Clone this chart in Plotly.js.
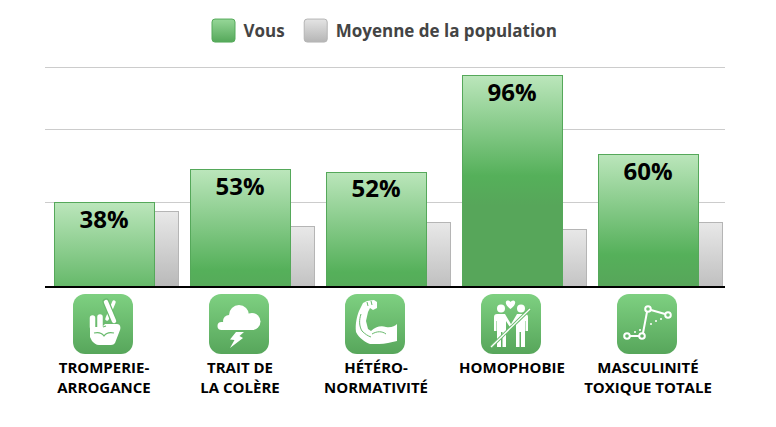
<!DOCTYPE html>
<html>
<head>
<meta charset="utf-8">
<script src="https://cdn.plot.ly/plotly-3.0.1.min.js"></script>
<style>html,body{margin:0;padding:0;background:#fff}</style>
</head>
<body>
<div id="plot" style="width:776px;height:427px"></div>
<script>
const categories = ['TROMPERIE-<br>ARROGANCE', 'TRAIT DE<br>LA COLÈRE', 'HÉTÉRO-<br>NORMATIVITÉ', 'HOMOPHOBIE', 'MASCULINITÉ<br>TOXIQUE TOTALE'];
const vous = [38, 53, 52, 96, 60];
const moyenne = [34, 27, 29, 26, 29];
const gridTicks = [38.1, 71.6, 100];
const seriesNames = ['Vous', 'Moyenne de la population'];

const FONT = '"Open Sans", sans-serif';
const ICON_LINE = '#69ba6d';

// one body of the couple picto, the other one is its mirror
const figure = '<circle cx="20" cy="14.5" r="4"/><path d="M13 23a3 3 0 0 1 3-3h8l6.5 11-2 1.5L25 27v26h-3.5V38h-1.5v15H16V27h-.5v10h-2.5z"/>';

// white pictos, 60x60 box
const iconParts = [
  // crossed fingers
  '<g fill="none" stroke="#fff" stroke-linecap="round"><path d="M19.5 24V33M27 23V33" stroke-width="5.5"/><path d="M41 8L34 25" stroke-width="3.5"/>' +
  '<path d="M33 8L41 27" stroke="' + ICON_LINE + '" stroke-width="7"/><path d="M33 8L41 27" stroke-width="4.5"/></g>' +
  '<path d="M17 33h12l3-3h12c3 0 4 3 3 6l-5 13c-1 1-2 2-4 2H26c-3 0-5-2-7-4l-2-4z"/>' +
  '<path d="M21 39c4-1 8 0 10 3 2-3 6-4 10-3M30 33l3-1" fill="none" stroke="' + ICON_LINE + '" stroke-width="1.2"/>',
  // storm cloud
  '<circle cx="30" cy="21" r="10"/><circle cx="20" cy="27" r="6"/><circle cx="43" cy="27.5" r="8.5"/><circle cx="12.5" cy="32" r="4"/><rect x="12" y="28" width="33" height="8"/>' +
  '<path d="M27 38h8l-4.500 4 3.500 2-13 10 4.500-8-4.500-.5z"/>',
  // flexed arm
  '<path d="M18 9l4-2 7-1 3 2v6l-4 2-3-2-2 4-2 9 2 8 3 2c4-4 10-6 15-4 5 1 9-1 11-3v17c-6 1-12 3-18 3h-9c-5-2-11-6-14-12-1-8 1-16 3-21z"/>' +
  '<path d="M27 40c5-3 10-3 14 0M16 20c-2 6-2 12 1 17 3 3 6 5 9 6M22 8l1 4M26 7l1 4" fill="none" stroke="' + ICON_LINE + '" stroke-width="1"/>',
  // couple with slash
  figure + '<g transform="translate(60,0) scale(-1,1)">' + figure + '</g>' +
  '<path d="M29.500 15c-5-3-6-8-3-8.500 2 0 3 1.500 3 1.500s1-1.500 3-1.500c3 .5 2 5.500-3 8.500z"/>' +
  '<path d="M49 15L10 53" stroke="' + ICON_LINE + '" stroke-width="3.2" fill="none"/><path d="M49 15L10 53" stroke="#fff" stroke-width="1.3" fill="none"/>',
  // broken line chart
  '<g fill="none" stroke="#fff" stroke-width="2"><path d="M13 42h9M26 39l4-21M34 16l14 4"/><circle cx="10" cy="42" r="2.800"/><circle cx="25" cy="42" r="2.800"/><circle cx="31" cy="15" r="2.800"/><circle cx="51" cy="21" r="2.800"/></g>' +
  '<circle cx="18" cy="38" r="1"/><circle cx="23" cy="36" r="1"/><circle cx="34" cy="30" r="1"/><circle cx="39" cy="27" r="1"/><circle cx="44" cy="25" r="1"/>'
];

function iconUri(inner) {
  const svg = '<svg xmlns="http://www.w3.org/2000/svg" width="60" height="60" viewBox="0 0 60 60">' +
    '<defs><linearGradient id="g" x1="0" y1="0" x2="0" y2="1"><stop offset="0" stop-color="#7ed081"/><stop offset="1" stop-color="#57a65b"/></linearGradient></defs>' +
    '<rect width="60" height="60" rx="12" fill="url(#g)"/><g fill="#fff">' + inner + '</g></svg>';
  return 'data:image/svg+xml;base64,' + btoa(svg);
}

// page is 776x427, plot area runs x 45-725, y 60-286; one category is 136 px, one percent 2.19 px
const W = 776, H = 427;
const catPx = 136;
const pctPx = 2.19;
const plotTop = 60, plotBottom = 286;

const data = [
  {
    type: 'bar', name: seriesNames[1], x: categories, y: moyenne,
    width: 100 / catPx, offset: -26 / catPx, legendrank: 2,
    marker: { color: '#d0d0d0', line: { color: '#b5b5b5', width: 1 } },
    hoverinfo: 'skip'
  },
  {
    type: 'bar', name: seriesNames[0], x: categories, y: vous,
    width: 100 / catPx, offset: -50 / catPx, legendrank: 1,
    marker: { color: '#55b05a', line: { color: '#55a85a', width: 1 } },
    text: vous.map(v => v + '%'), textposition: 'inside', insidetextanchor: 'end',
    textangle: 0, constraintext: 'none',
    insidetextfont: { family: FONT, size: 24, color: '#000', weight: 700 },
    hoverinfo: 'skip'
  }
];

const layout = {
  width: W, height: H,
  margin: { l: 0, r: 0, t: 0, b: 0, pad: 0 },
  paper_bgcolor: '#fff', plot_bgcolor: '#fff',
  barmode: 'overlay',
  showlegend: true,
  legend: {
    orientation: 'h', x: 203.5 / W, xanchor: 'left', y: 1 - 31 / H, yanchor: 'middle',
    font: { family: FONT, size: 17, color: '#444', weight: 700 },
    itemclick: false, itemdoubleclick: false, itemwidth: 30
  },
  xaxis: {
    type: 'category', categoryorder: 'array', categoryarray: categories,
    domain: [45 / W, 725 / W],
    range: [-59 / catPx, 5 - 59 / catPx], fixedrange: true,
    showline: true, linecolor: '#000', linewidth: 2, showgrid: false,
    ticks: 'outside', ticklen: 67, tickcolor: 'rgba(0,0,0,0)', tickwidth: 1,
    tickangle: 0, tickfont: { family: FONT, size: 15, color: '#000', weight: 700 }
  },
  yaxis: {
    domain: [(H - plotBottom) / H, (H - plotTop) / H],
    range: [0, (plotBottom - plotTop) / pctPx], fixedrange: true, tickmode: 'array', tickvals: gridTicks,
    showticklabels: false, ticks: '', gridcolor: '#cccccc', gridwidth: 1,
    zeroline: false, showline: false
  },
  images: categories.map((c, i) => ({
    source: iconUri(iconParts[i]), xref: 'x', yref: 'paper',
    x: i - 1 / catPx, y: (H - 294) / H, xanchor: 'center', yanchor: 'top',
    sizex: 60 / catPx, sizey: 60 / H, sizing: 'stretch', layer: 'above'
  }))
};

function addGradient(defs, id, stops, y1, y2, units) {
  const ns = 'http://www.w3.org/2000/svg';
  const g = document.createElementNS(ns, 'linearGradient');
  g.setAttribute('id', id);
  g.setAttribute('x1', 0); g.setAttribute('x2', 0);
  g.setAttribute('y1', y1); g.setAttribute('y2', y2);
  g.setAttribute('gradientUnits', units);
  stops.forEach(s => {
    const st = document.createElementNS(ns, 'stop');
    st.setAttribute('offset', s[0]);
    st.setAttribute('stop-color', s[1]);
    g.appendChild(st);
  });
  defs.appendChild(g);
}

// Plotly has no bar gradients, so fill its own bar paths with svg gradients
function applyGradients(gd) {
  const defs = gd.querySelector('.main-svg defs');
  const greenStops = [[0, '#bbe6bb'], [0.77, '#55b05a'], [1, '#57a65a']];
  const grayStops = [[0, '#e8e8e8'], [1, '#b9b9b9']];
  const traces = gd.querySelectorAll('.barlayer .trace');
  traces.forEach((tr, t) => {
    tr.querySelectorAll('.point path').forEach((p, i) => {
      const box = p.getBBox();
      const id = 'barfill' + t + '_' + i;
      if (t === 1) addGradient(defs, id, greenStops, box.y, box.y + 130, 'userSpaceOnUse');
      else addGradient(defs, id, grayStops, box.y, box.y + 75, 'userSpaceOnUse');
      p.style.fill = 'url(#' + id + ')';
      p.style.shapeRendering = 'crispEdges';
    });
    // value labels sit a little closer to the bar top than plotly puts them
    tr.querySelectorAll('.bartext').forEach(txt => {
      txt.setAttribute('transform', 'translate(0,-4) ' + (txt.getAttribute('transform') || ''));
    });
  });

  // legend swatches: 23 px rounded squares, a bit more room between the items
  addGradient(defs, 'legGreen', [[0, '#96d798'], [1, '#55a85a']], 0, 1, 'objectBoundingBox');
  addGradient(defs, 'legGray', [[0, '#e4e4e4'], [1, '#b5b5b5']], 0, 1, 'objectBoundingBox');
  const scroll = gd.querySelector('.legend .scrollbox');
  if (scroll) scroll.removeAttribute('clip-path');
  gd.querySelectorAll('.legend .traces').forEach(tr => {
    const isVous = tr.textContent.indexOf('Vous') === 0;
    const p = tr.querySelector('.legendpoints path');
    p.setAttribute('d', 'M-8.5,-11.5H8.5A3,3 0 0 1 11.5,-8.5V8.5A3,3 0 0 1 8.5,11.5H-8.5A3,3 0 0 1 -11.5,8.5V-8.5A3,3 0 0 1 -8.5,-11.5Z');
    p.style.fill = isVous ? 'url(#legGreen)' : 'url(#legGray)';
    p.style.stroke = isVous ? '#55aa5a' : '#b5b5b5';
    if (!isVous) tr.setAttribute('transform', 'translate(6,0) ' + (tr.getAttribute('transform') || ''));
  });
}

const gd = document.getElementById('plot');
Plotly.newPlot(gd, data, layout, { displayModeBar: false }).then(() => applyGradients(gd));
</script>
</body>
</html>
